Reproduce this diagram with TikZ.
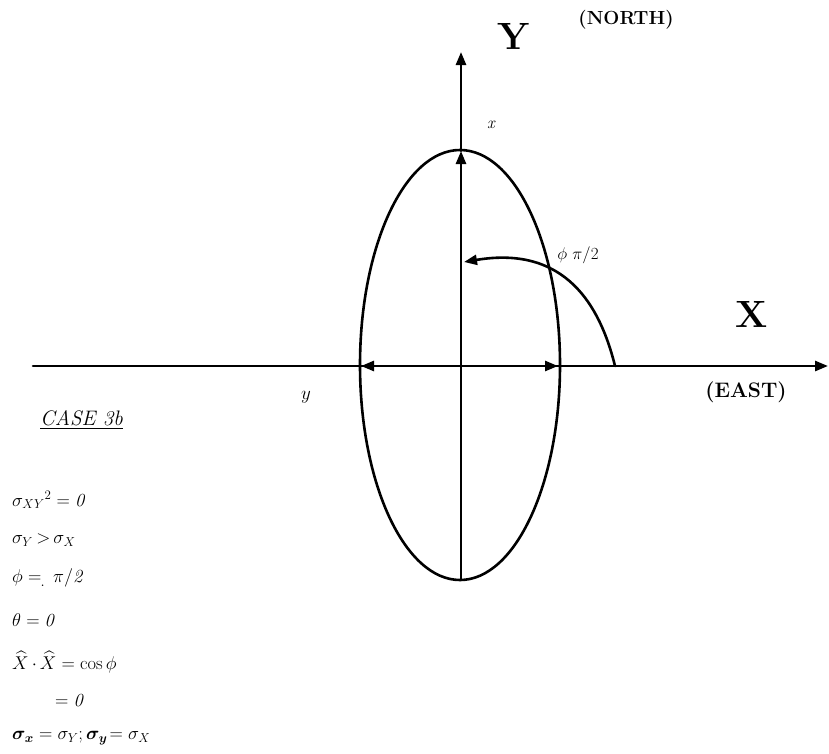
\RequirePackage{fix-cm}
\documentclass[tikz,border=0pt]{standalone}
\usepackage{amsmath,amssymb,bm}
\usetikzlibrary{arrows.meta,shapes.geometric}
\begin{document}
\begin{tikzpicture}[x=1pt,y=-1pt,
  axis/.style={line width=2.6pt, line cap=round},
  tip/.style={-{Triangle[length=13pt,width=10pt]}},
  biglbl/.style={font=\fontsize{38}{40}\selectfont\bfseries, inner sep=0},
  dirlbl/.style={font=\fontsize{19}{21}\selectfont\bfseries, inner sep=0},
  eqlbl/.style={font=\fontsize{18.5}{20}\selectfont, anchor=west, inner sep=0},
  smlbl/.style={font=\fontsize{17}{19}\selectfont, inner sep=0}]
\useasboundingbox (0,0) rectangle (829,753);
% ellipse
\node[ellipse, draw, line width=2.6pt, minimum width=200pt, minimum height=430pt, inner sep=0] (ell) at (460,365) {};
\coordinate (O) at (461,366);
\coordinate (ytop) at (461,52);
\coordinate (xleft) at (33,366);
\coordinate (xtip) at (828,366);
\coordinate (etop) at (461,151);
\coordinate (ebot) at (461,580);
\coordinate (eleft) at (361,366);
\coordinate (eright) at (558,366);
\coordinate (arcs) at (615,366);
\coordinate (arce) at (464,262);
% axes
\draw[axis] (xleft) -- (O);
\draw[axis, tip] (O) -- (xtip);
\draw[axis] (ebot) -- (O);
\draw[axis, tip] (O) -- (etop);
\draw[axis, tip] (etop) -- (ytop);
\draw[axis, tip] (O) -- (eleft);
\draw[axis, tip] (O) -- (eright);
% angle arc
\draw[axis, tip] (arcs) .. controls (600,305) and (565,245) .. (arce);
% labels
\node[biglbl] (Y) at (514,36) {Y};
\node[dirlbl] (north) at (626,20) {(NORTH)};
\node[biglbl] (X) at (752,314) {X};
\node[dirlbl, font=\fontsize{21}{23}\selectfont\bfseries] (east) at (746,392) {(EAST)};
\node[font=\fontsize{17}{19}\selectfont\itshape, inner sep=0] (xl) at (491,125) {x};
\node[smlbl] (phi) at (578,255) {$\phi\ \pi/2$};
\node[smlbl, font=\fontsize{19}{21}\selectfont] (yl) at (306,397) {$y$};
\node[font=\fontsize{21}{23}\selectfont\itshape, anchor=west, inner sep=0] (case) at (40,420) {\underline{CASE 3b}};
\node[eqlbl] (e1) at (12,500) {$\sigma_{XY}{}^{2} = \mathit{0}$};
\node[eqlbl] (e2) at (12,540) {$\sigma_{Y}\,{>}\,\sigma_{X}$};
\node[eqlbl] (e3) at (12,578) {$\phi \mathrel{=\!\!\raisebox{-4pt}{.}}\, \pi/\mathit{2}$};
\node[eqlbl] (e4) at (12,620) {$\theta = \mathit{0}$};
\node[eqlbl] (e5) at (12,662) {$\widehat{X}\,{\cdot}\,\widehat{X} = {\small\cos\phi}$};
\node[eqlbl] (e6) at (55,700) {$= \mathit{0}$};
\node[eqlbl] (e7) at (12,738) {$\bm{\sigma_{x}} = \sigma_{Y}; \bm{\sigma_{y}}\!= \sigma_{X}$};
\end{tikzpicture}
\end{document}
